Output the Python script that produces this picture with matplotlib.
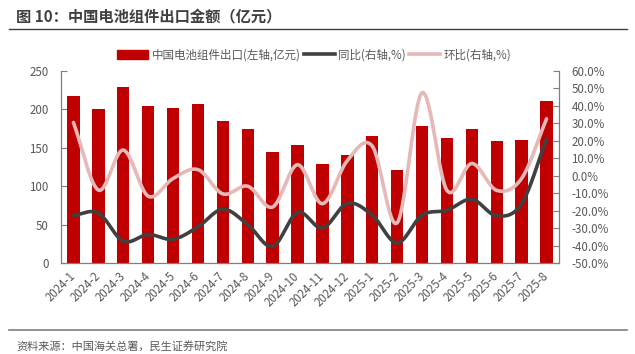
import numpy as np
import matplotlib
matplotlib.use("Agg")
import matplotlib.pyplot as plt
from matplotlib.lines import Line2D

plt.rcParams['font.family'] = ['Noto Sans CJK SC', 'DejaVu Sans']

# -------------------------------------------------
# Data
# -------------------------------------------------
months = ["2024-1", "2024-2", "2024-3", "2024-4", "2024-5", "2024-6", "2024-7",
          "2024-8", "2024-9", "2024-10", "2024-11", "2024-12", "2025-1", "2025-2",
          "2025-3", "2025-4", "2025-5", "2025-6", "2025-7", "2025-8"]

export_value = [218, 200, 229, 204, 202, 207, 185, 175, 145, 154,
                129, 141, 166, 121, 178, 163, 174, 159, 160, 211]

yoy = [-22.7, -21.4, -37.5, -33.7, -36.4, -29.3, -19.2, -28.0, -40.5, -21.0,
       -30.0, -15.8, -22.6, -38.5, -22.6, -19.8, -13.5, -23.0, -16.0, 21.0]

mom = [30.5, -8.2, 14.7, -11.7, -1.6, 3.5, -10.4, -6.0, -17.9, 6.3,
       -16.0, 8.7, 17.0, -27.0, 47.5, -8.4, 7.0, -8.4, -1.5, 32.6]

bar_color = "#C00000"
yoy_color = "#404040"
mom_color = "#E6B8B7"
grey = "#595959"


# -------------------------------------------------
# Smoothed line like the office "smooth line" option (Catmull-Rom)
# -------------------------------------------------
def smooth(xs, ys, n=30):
    xs = np.asarray(xs, float)
    ys = np.asarray(ys, float)
    px = np.concatenate([[2 * xs[0] - xs[1]], xs, [2 * xs[-1] - xs[-2]]])
    py = np.concatenate([[2 * ys[0] - ys[1]], ys, [2 * ys[-1] - ys[-2]]])
    out_x, out_y = [], []
    t = np.linspace(0, 1, n, endpoint=False)
    for i in range(1, len(px) - 2):
        for p, out in ((px, out_x), (py, out_y)):
            p0, p1, p2, p3 = p[i - 1], p[i], p[i + 1], p[i + 2]
            out.extend(0.5 * ((2 * p1) + (-p0 + p2) * t
                              + (2 * p0 - 5 * p1 + 4 * p2 - p3) * t ** 2
                              + (-p0 + 3 * p1 - 3 * p2 + p3) * t ** 3))
    out_x.append(xs[-1])
    out_y.append(ys[-1])
    return np.array(out_x), np.array(out_y)


# -------------------------------------------------
# Plotting
# -------------------------------------------------
fig = plt.figure(figsize=(6.35, 3.54), dpi=100)
ax = fig.add_axes([61 / 635, 1 - 263 / 354, (559 - 61) / 635, (263 - 71) / 354])
ax2 = ax.twinx()

x = np.arange(len(months))
ax.bar(x, export_value, width=0.5, color=bar_color, zorder=2)

sx, sy = smooth(x, yoy)
ax2.plot(sx, sy, color=yoy_color, lw=2.6, solid_capstyle="round")
sx, sy = smooth(x, mom)
ax2.plot(sx, sy, color=mom_color, lw=2.6, solid_capstyle="round")

ax.set_xlim(-0.5, len(months) - 0.5)
ax.set_ylim(0, 250)
ax.set_yticks(range(0, 251, 50))
ax2.set_ylim(-50, 60)
ax2.set_yticks(range(-50, 61, 10))
ax2.set_yticklabels([f"{v:.1f}%" for v in range(-50, 61, 10)])

ax.set_xticks(x)
ax.set_xticklabels(months, rotation=45, ha="right", va="center", rotation_mode="anchor")

for a in (ax, ax2):
    a.spines["top"].set_visible(False)
    for s in ("left", "right", "bottom"):
        a.spines[s].set_color("#7F7F7F")
        a.spines[s].set_linewidth(0.9)
    a.tick_params(colors="#7F7F7F", labelsize=8.3, length=4, width=0.8, direction="in")
ax.tick_params(axis="x", length=0, pad=8, labelcolor=grey)
ax.tick_params(axis="y", labelcolor=grey, pad=9)
ax2.tick_params(axis="y", labelcolor=grey, pad=9)
ax.spines["right"].set_visible(False)
ax2.spines["left"].set_visible(False)
ax2.spines["bottom"].set_visible(False)

# legend
handles = [plt.Rectangle((0, 0), 1, 1, color=bar_color),
           Line2D([0], [0], color=yoy_color, lw=2.6),
           Line2D([0], [0], color=mom_color, lw=2.6)]
leg_labels = ["中国电池组件出口(左轴,亿元)", "同比(右轴,%)", "环比(右轴,%)"]
fig.legend(handles, leg_labels, loc="center", bbox_to_anchor=(314 / 635, 1 - 55 / 354),
           ncol=3, frameon=False, fontsize=8.3, handlelength=2.7, handleheight=0.9,
           columnspacing=0.25, handletextpad=0.3, labelcolor=grey)

# title, rules, source
fig.text(16 / 635, 1 - 16 / 354, "图 10：中国电池组件出口金额（亿元）", fontsize=11,
         fontweight="bold", color="#404040", va="center", ha="left")
fig.add_artist(Line2D([9 / 635, 627 / 635], [1 - 28.5 / 354] * 2, color="#404040", lw=1.0))
fig.add_artist(Line2D([9 / 635, 627 / 635], [1 - 329.5 / 354] * 2, color="#7F7F7F", lw=1.2))
fig.text(16 / 635, 1 - 346 / 354, "资料来源：中国海关总署，民生证券研究院", fontsize=8,
         color=grey, va="center", ha="left")

fig.savefig("out.png", dpi=100)
